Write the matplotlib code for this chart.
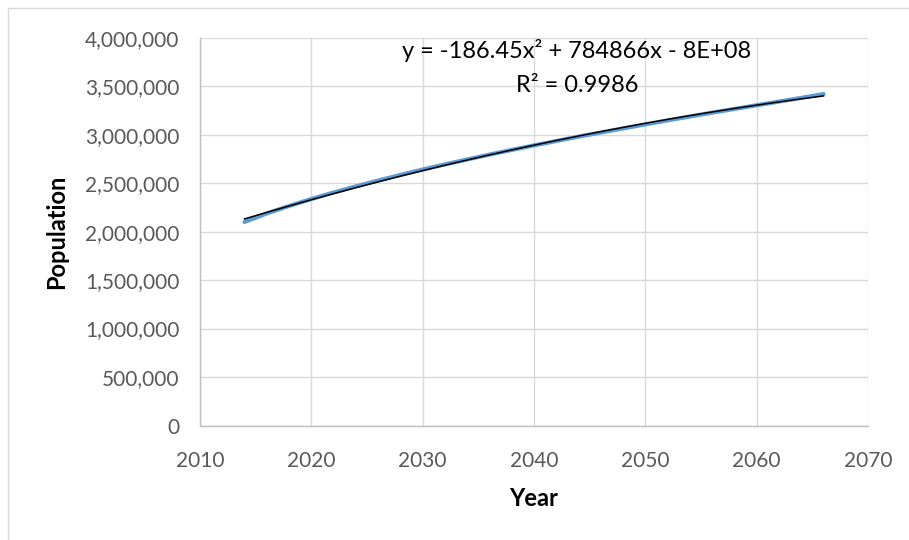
import numpy as np
import matplotlib
matplotlib.use("Agg")
from matplotlib import pyplot as plt
from matplotlib.patches import Rectangle
from matplotlib.ticker import FuncFormatter

# Population projection
years = [2014, 2016, 2018, 2020, 2022, 2024, 2026, 2028, 2030, 2032, 2034, 2036, 2038, 2040,
         2042, 2044, 2046, 2048, 2050, 2052, 2054, 2056, 2058, 2060, 2062, 2064, 2066]
population = [2100000, 2188000, 2265000, 2337000, 2404000, 2467000, 2527000, 2585000, 2641000,
              2694000, 2745000, 2795000, 2843000, 2890000, 2935000, 2980000, 3023000, 3065000,
              3107000, 3148000, 3188000, 3228000, 3266000, 3304000, 3342000, 3380000, 3420000]
trend_label = "y = -186.45x\u00b2 + 784866x - 8E+08\nR\u00b2 = 0.9986"

plt.rcParams['font.family'] = ['Lato', 'DejaVu Sans']

fig = plt.figure(figsize=(9.09, 5.4), dpi=100)
ax = fig.add_axes([0.22, 0.212, 0.735, 0.718])

# data line and 2nd order trendline (fitted by numpy)
ax.plot(years, population, color='#5b9bd5', lw=3.0, solid_capstyle='round', zorder=3)
coef = np.polyfit(years, population, 2)
ax.plot(years, np.polyval(coef, years), color='black', lw=1.1, zorder=4)

ax.set_xlim(2010, 2070)
ax.set_ylim(0, 4000000)
ax.set_xticks(range(2010, 2071, 10))
ax.set_yticks(range(0, 4000001, 500000))
ax.yaxis.set_major_formatter(FuncFormatter(lambda v, p: f"{int(v):,}"))

ax.grid(True, color='#d9d9d9', lw=1.0)
ax.set_axisbelow(True)
for side in ['top', 'right']:
    ax.spines[side].set_visible(False)
for side in ['left', 'bottom']:
    ax.spines[side].set_color('#bfbfbf')
    ax.spines[side].set_linewidth(1.0)
ax.tick_params(length=0, labelsize=15, colors='#595959')
ax.tick_params(axis='x', pad=18)
ax.tick_params(axis='y', pad=15)

ax.set_xlabel("Year", fontsize=17, fontweight='bold', labelpad=12)
ax.set_ylabel("Population", fontsize=17, fontweight='bold', labelpad=12)

ax.text(0.564, 0.924, trend_label, transform=ax.transAxes, ha='center', va='center',
        multialignment='center', fontsize=17, linespacing=1.75)

# chart frame (only left and top edges visible in the crop)
fig.patches.append(Rectangle((8 / 909, -0.05), 1.2, 1 - 8 / 540 + 0.05,
                             transform=fig.transFigure, fill=False,
                             edgecolor='#d9d9d9', lw=1.0))

fig.savefig("out.png", dpi=100)
